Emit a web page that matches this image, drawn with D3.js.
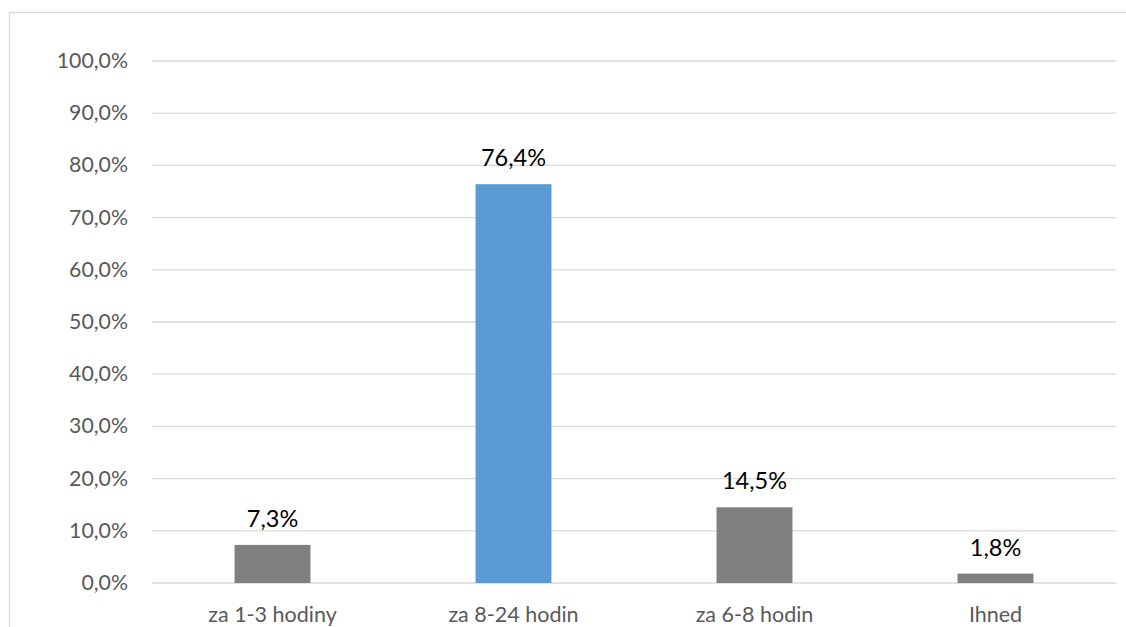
<!DOCTYPE html>
<html>
<head>
<meta charset="utf-8">
<script src="https://cdn.jsdelivr.net/npm/d3@7"></script>
<style>
  html, body { margin: 0; padding: 0; background: #fff; }
  svg { display: block; font-family: Lato, "Open Sans", sans-serif; }
</style>
</head>
<body>
<div id="chart"></div>
<script>
const categories = ['za 1-3 hodiny', 'za 8-24 hodin', 'za 6-8 hodin', 'Ihned'];
const values = [7.3, 76.4, 14.5, 1.8];
const barColors = ['#7f7f7f', '#5b9bd5', '#7f7f7f', '#7f7f7f'];
const yTicks = [0, 10, 20, 30, 40, 50, 60, 70, 80, 90, 100];

const width = 1126, height = 627;
const margin = { top: 61, right: 10, bottom: 44, left: 152 };
const plotRight = 1116, plotBottom = 583;

const fmt = v => v.toFixed(1).replace('.', ',') + '%';

const svg = d3.select('#chart').append('svg')
  .attr('width', width)
  .attr('height', height);

// chart area frame
svg.append('rect')
  .attr('x', 9.5).attr('y', 12.5)
  .attr('width', 1130).attr('height', 700)
  .attr('fill', '#fff')
  .attr('stroke', '#d9d9d9')
  .attr('stroke-width', 1.3);

const xScale = d3.scaleBand()
  .domain(categories)
  .range([margin.left, plotRight])
  .paddingInner(0.685)
  .paddingOuter(0.3425);

const yScale = d3.scaleLinear()
  .domain([0, 100])
  .range([plotBottom, margin.top]);

// gridlines
svg.append('g')
  .selectAll('line')
  .data(yTicks)
  .enter().append('line')
  .attr('x1', margin.left)
  .attr('x2', plotRight)
  .attr('y1', d => yScale(d))
  .attr('y2', d => yScale(d))
  .attr('stroke', '#d9d9d9')
  .attr('stroke-width', 1.3);

// y axis labels
svg.append('g')
  .selectAll('text')
  .data(yTicks)
  .enter().append('text')
  .attr('x', 128)
  .attr('y', d => yScale(d))
  .attr('dy', '0.33em')
  .attr('text-anchor', 'end')
  .style('font-size', '21.3px')
  .style('fill', '#595959')
  .text(d => fmt(d));

// bars
svg.selectAll('.bar')
  .data(values)
  .enter().append('rect')
  .attr('class', 'bar')
  .attr('x', (d, i) => xScale(categories[i]))
  .attr('y', d => yScale(d))
  .attr('width', xScale.bandwidth())
  .attr('height', d => plotBottom - yScale(d))
  .style('fill', (d, i) => barColors[i]);

// bar labels
svg.selectAll('.bar-label')
  .data(values)
  .enter().append('text')
  .attr('class', 'bar-label')
  .attr('x', (d, i) => xScale(categories[i]) + xScale.bandwidth() / 2)
  .attr('y', d => yScale(d) - 18)
  .attr('text-anchor', 'middle')
  .style('font-size', '23.5px')
  .style('fill', '#000')
  .text(d => fmt(d));

// category labels
svg.selectAll('.cat-label')
  .data(categories)
  .enter().append('text')
  .attr('class', 'cat-label')
  .attr('x', d => xScale(d) + xScale.bandwidth() / 2)
  .attr('y', 622)
  .attr('text-anchor', 'middle')
  .style('font-size', '21.5px')
  .style('fill', '#595959')
  .text(d => d);
</script>
</body>
</html>
